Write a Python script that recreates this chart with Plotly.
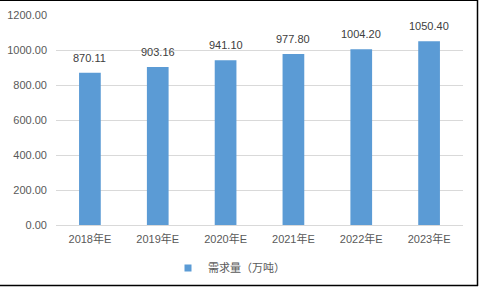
import plotly.graph_objects as go

categories = ["2018年E", "2019年E", "2020年E", "2021年E", "2022年E", "2023年E"]
values = [870.11, 903.16, 941.10, 977.80, 1004.20, 1050.40]
value_labels = ["870.11", "903.16", "941.10", "977.80", "1004.20", "1050.40"]
series_name = "需求量（万吨）"
y_ticks = [0, 200, 400, 600, 800, 1000, 1200]

FONT = "Liberation Sans, Noto Sans CJK SC, sans-serif"
BAR = "#5B9BD5"
TXT = "#595959"

fig = go.Figure()
fig.add_trace(go.Bar(
    x=categories, y=values, name=series_name,
    marker=dict(color=BAR, line=dict(width=0)),
    width=0.32, showlegend=False, legendgroup="s",
))
# legend entry with a small square symbol
fig.add_trace(go.Scatter(
    x=[None], y=[None], mode="markers", name=series_name, legendgroup="s",
    marker=dict(symbol="square", size=7, color=BAR), showlegend=True,
))

for c, v, t in zip(categories, values, value_labels):
    fig.add_annotation(x=c, y=v, text=t, showarrow=False, yanchor="bottom",
                       yshift=7, font=dict(family=FONT, size=11, color="#404040"))

L, R, T, B = 56, 17, 15, 64
W, H = 480, 289
pw, ph = W - L - R, H - T - B

def px(x):
    return (x - L) / pw

def py(y):
    return (H - B - y) / ph

# outer border (top, right, bottom)
fig.add_shape(type="line", xref="paper", yref="paper", x0=px(-2), x1=px(477.5), y0=py(0.5), y1=py(0.5),
              line=dict(color="black", width=1))
fig.add_shape(type="line", xref="paper", yref="paper", x0=px(477.5), x1=px(477.5), y0=py(0), y1=py(286),
              line=dict(color="black", width=1.5))
fig.add_shape(type="line", xref="paper", yref="paper", x0=px(-2), x1=px(478), y0=py(285.5), y1=py(285.5),
              line=dict(color="black", width=1.5))

fig.update_layout(
    width=W, height=H,
    margin=dict(l=L, r=R, t=T, b=B, autoexpand=False),
    paper_bgcolor="white", plot_bgcolor="white",
    font=dict(family=FONT, size=11, color=TXT),
    showlegend=True,
    legend=dict(orientation="h", x=px(168), xanchor="left", y=py(268), yanchor="middle",
                font=dict(family=FONT, size=11, color=TXT), itemwidth=30,
                bgcolor="rgba(0,0,0,0)", borderwidth=0),
    xaxis=dict(showgrid=False, showline=False, ticks="", ticklabelstandoff=6, automargin=False,
               tickfont=dict(family=FONT, size=11, color=TXT)),
    yaxis=dict(range=[0, 1200], tickvals=y_ticks, tickformat=".2f",
               showgrid=True, gridcolor="#D9D9D9", gridwidth=1,
               zeroline=True, zerolinecolor="#D9D9D9", zerolinewidth=1,
               showline=False, ticks="", ticklabelstandoff=8, automargin=False,
               tickfont=dict(family=FONT, size=11, color=TXT)),
)

fig.write_html("out.html")
